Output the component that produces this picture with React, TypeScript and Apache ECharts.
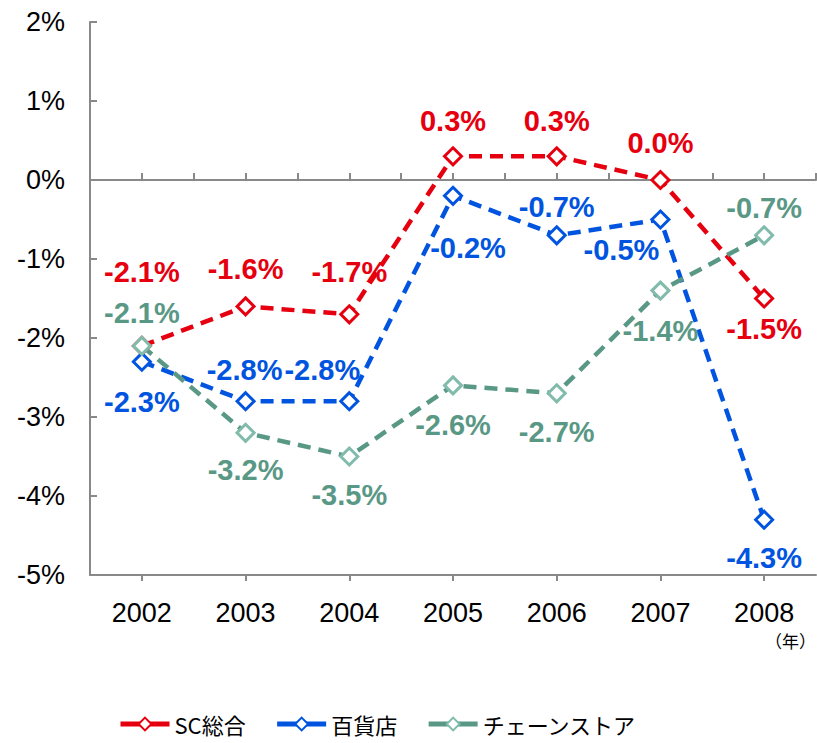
import React, { useEffect, useRef } from "react";
import * as echarts from "echarts";

const years = ["2002", "2003", "2004", "2005", "2006", "2007", "2008"];
const yTicks = [-5, -4, -3, -2, -1, 0, 1, 2];
const seriesNames = ["SC総合", "百貨店", "チェーンストア"];
const scTotal = [-2.1, -1.6, -1.7, 0.3, 0.3, 0.0, -1.5];
const deptStore = [-2.3, -2.8, -2.8, -0.2, -0.7, -0.5, -4.3];
const chainStore = [-2.1, -3.2, -3.5, -2.6, -2.7, -1.4, -0.7];
const unitLabel = "（年）";

// label offsets (style only): [dx, dy] from the point
const scOffsets = [[0, -74], [0, -37], [0, -42], [0, -35], [0, -35], [0, -37], [0, 30]];
const deptOffsets = [[0, 40], [-1, -31], [-27, -31], [15, 52], [0, -28], [-39, 30], [0, 38]];
const chainOffsets = [[0, -33], [0, 37], [0, 38], [0, 40], [0, 39], [0, 40], [0, -27]];

const RED = "#E6000F";
const BLUE = "#0054E0";
const GREEN = "#5A9886";
const GREEN_LIGHT = "#80BBAB";
const FONT = "'Liberation Sans', Arial, sans-serif";
const CJK = "'Noto Sans CJK JP', sans-serif";

function makeSeries(name: string, values: number[], offsets: number[][], lineColor: string, symColor: string) {
  return {
    name,
    type: "line",
    xAxisIndex: 0,
    yAxisIndex: 0,
    data: values.map((v, i) => ({
      value: v,
      label: { offset: offsets[i] },
    })),
    symbol: "diamond",
    symbolSize: 17,
    lineStyle: { color: lineColor, width: 4.5, type: [13, 8] },
    itemStyle: { color: "#ffffff", borderColor: symColor, borderWidth: 3 },
    label: {
      show: true,
      position: "inside",
      formatter: (p: any) => `${Number(p.value).toFixed(1)}%`,
      color: lineColor,
      fontSize: 29,
      fontWeight: "bold",
      fontFamily: FONT,
    },
    z: 3,
  };
}

export default function App() {
  const ref = useRef<HTMLDivElement>(null);
  useEffect(() => {
    if (!ref.current) return;
    const chart = echarts.init(ref.current, null, { renderer: "svg" });
    const halfSlots = years.flatMap((y) => [y + "a", y + "b"]);
    chart.setOption({
      animation: false,
      backgroundColor: "#ffffff",
      grid: { left: 90, right: 1, top: 22, bottom: 168, containLabel: false },
      xAxis: [
        {
          type: "category",
          data: years,
          position: "bottom",
          boundaryGap: true,
          axisLine: { show: true, onZero: false, lineStyle: { color: "#898989", width: 2 } },
          axisTick: { show: false },
          axisLabel: { color: "#000", fontSize: 27, fontFamily: FONT, margin: 24, interval: 0 },
          splitLine: { show: false },
        },
        {
          type: "category",
          data: halfSlots,
          position: "top",
          boundaryGap: true,
          axisLine: { show: true, onZero: true, lineStyle: { color: "#898989", width: 2 } },
          axisTick: { show: true, interval: 0, length: 7, lineStyle: { color: "#898989", width: 2 } },
          axisLabel: { show: false },
          splitLine: { show: false },
        },
        {
          type: "category",
          data: years,
          position: "bottom",
          boundaryGap: true,
          axisLine: { show: false, onZero: true },
          axisTick: { show: true, alignWithLabel: true, interval: 0, length: 6, lineStyle: { color: "#898989", width: 2 } },
          axisLabel: { show: false },
          splitLine: { show: false },
        },
      ],
      yAxis: {
        type: "value",
        min: yTicks[0],
        max: yTicks[yTicks.length - 1],
        interval: 1,
        axisLine: { show: true, onZero: false, lineStyle: { color: "#898989", width: 2 } },
        axisTick: { show: true, inside: true, length: 7, lineStyle: { color: "#898989", width: 2 } },
        axisLabel: {
          color: "#000",
          fontSize: 27,
          fontFamily: FONT,
          margin: 25,
          formatter: (v: number) => `${v}%`,
        },
        splitLine: { show: false },
      },
      legend: {
        data: seriesNames,
        left: 113,
        top: 708,
        itemWidth: 49,
        itemHeight: 16,
        itemGap: 29,
        lineStyle: { width: 5, type: "solid" },
        textStyle: { color: "#000", fontSize: 22, fontFamily: CJK },
      },
      graphic: [
        {
          type: "text",
          left: 765,
          top: 632,
          style: { text: unitLabel, fontSize: 17, fill: "#000", fontFamily: CJK },
        },
      ],
      series: [
        makeSeries(seriesNames[0], scTotal, scOffsets, RED, RED),
        makeSeries(seriesNames[1], deptStore, deptOffsets, BLUE, BLUE),
        makeSeries(seriesNames[2], chainStore, chainOffsets, GREEN, GREEN_LIGHT),
      ],
    });
    return () => chart.dispose();
  }, []);
  return <div ref={ref} style={{ width: 817, height: 743, position: "fixed", left: 0, top: 0 }} />;
}
